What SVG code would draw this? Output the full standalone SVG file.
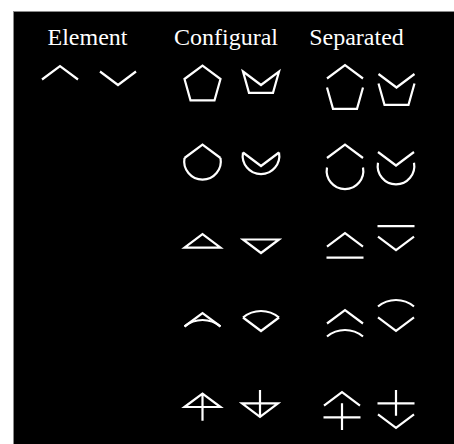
<svg xmlns="http://www.w3.org/2000/svg" xmlns:xlink="http://www.w3.org/1999/xlink" width="454" height="444" viewBox="0 0 454 444">
<style>
.s{fill:none;stroke:#fff;stroke-width:2.2;stroke-linejoin:miter;stroke-linecap:butt}
.t{font-family:"Liberation Serif","Times New Roman",serif;font-size:24px;fill:#fff;text-anchor:middle}
</style>
<defs>
<path id="cu" class="s" d="M-18,0 L0,-13.5 L18,0"/>
<path id="cd" class="s" d="M-18,0 L0,13.5 L18,0"/>
<path id="pl" class="s" d="M-18,0 L-12,21.3 L12,21.3 L18,0"/>
<path id="al" class="s" d="M-18,0 A18.3,18.3 0 1 0 18,0"/>
<path id="au" class="s" d="M-18,0 A28.2,28.2 0 0 1 18,0"/>
<path id="hl" class="s" d="M-18.5,0 L18.5,0"/>
</defs>
<rect x="13.5" y="11.5" width="450" height="440" fill="#000" stroke="#8a8a8a" stroke-width="1"/>
<g id="headers">
<text class="t" x="87.5" y="45">Element</text>
<text class="t" x="226" y="45">Configural</text>
<text class="t" x="356.5" y="45">Separated</text>
</g>
<g id="element">
<use xlink:href="#cu" x="60" y="79.5"/>
<use xlink:href="#cd" x="118" y="71.5"/>
</g>
<g id="row1">
<path class="s" d="M184.5,79 L202.5,65.5 L220.5,79 L214.5,100.3 L190.5,100.3 Z"/>
<path class="s" d="M243,71.5 L261,85 L279,71.5 L273,92.8 L249,92.8 Z"/>
<use xlink:href="#cu" x="345" y="78.5"/>
<use xlink:href="#pl" x="345" y="87.5"/>
<use xlink:href="#cd" x="396.5" y="74"/>
<use xlink:href="#pl" x="396.5" y="83.5"/>
</g>
<g id="row2">
<use xlink:href="#cu" x="202.5" y="158"/>
<use xlink:href="#al" x="202.5" y="158"/>
<use xlink:href="#cd" x="261" y="152.5"/>
<use xlink:href="#al" x="261" y="152.5"/>
<use xlink:href="#cu" x="345" y="158"/>
<use xlink:href="#al" x="345" y="167.5"/>
<use xlink:href="#cd" x="396" y="152"/>
<use xlink:href="#al" x="396" y="162.7"/>
</g>
<g id="row3">
<path class="s" d="M184.5,247.7 L202.5,234.2 L220.5,247.7 Z"/>
<path class="s" d="M243,239.5 L279,239.5 L261,253 Z"/>
<use xlink:href="#cu" x="345" y="246.7"/>
<use xlink:href="#hl" x="345" y="257.7"/>
<use xlink:href="#hl" x="396" y="226.2"/>
<use xlink:href="#cd" x="396" y="236.7"/>
</g>
<g id="row4">
<use xlink:href="#cu" x="202.5" y="326.5"/>
<use xlink:href="#au" x="202.5" y="326.5"/>
<use xlink:href="#au" x="261" y="317.5"/>
<use xlink:href="#cd" x="261" y="317.5"/>
<use xlink:href="#cu" x="345" y="323.5"/>
<use xlink:href="#au" x="345" y="336.5"/>
<use xlink:href="#au" x="396" y="306.5"/>
<use xlink:href="#cd" x="396" y="317.3"/>
</g>
<g id="row5">
<path class="s" d="M184.5,407 L202.5,393.5 L220.5,407 Z M202.5,393.5 L202.5,420.7"/>
<path class="s" d="M242,403.3 L278,403.3 L260,416.8 Z M260,390 L260,416.8"/>
<use xlink:href="#cu" x="342" y="405.7"/>
<path class="s" d="M323.5,417.3 L360.5,417.3 M342,403.3 L342,430"/>
<path class="s" d="M377.5,403.3 L414.5,403.3 M396,390 L396,415.7"/>
<use xlink:href="#cd" x="396" y="414.3"/>
</g>
</svg>
